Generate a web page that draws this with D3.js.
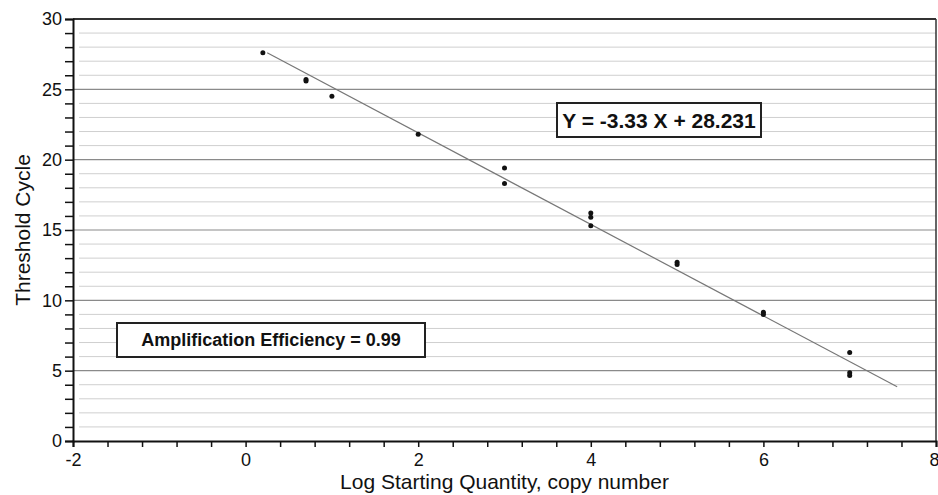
<!DOCTYPE html>
<html>
<head>
<meta charset="utf-8">
<script src="https://cdn.jsdelivr.net/npm/d3@7"></script>
<style>
  body { margin: 0; background: #fff; }
  svg { display: block; font-family: "Liberation Sans", Arial, sans-serif; }
</style>
</head>
<body>
<svg width="938" height="495"></svg>
<script>
// standard curve replicates, log copy number vs Ct
const logQty = [0.2, 0.7, 0.7, 1.0, 2.0, 3.0, 3.0, 4.0, 4.0, 4.0, 5.0, 5.0, 6.0, 6.0, 7.0, 7.0, 7.0]
const ct     = [27.6, 25.7, 25.6, 24.5, 21.8, 19.4, 18.3, 16.2, 15.9, 15.3, 12.7, 12.55, 9.15, 9.0, 6.3, 4.85, 4.65]

// fitted line as drawn
const fitX = [0.25, 7.55]
const fitY = [27.6, 3.85]

const xTickLabels = [-2, 0, 2, 4, 6, 8]
const yTickLabels = [0, 5, 10, 15, 20, 25, 30]

const equationText = "Y = -3.33 X + 28.231"
const efficiencyText = "Amplification Efficiency = 0.99"

var svg = d3.select("svg"),
  width = +svg.attr("width"),
  height = +svg.attr("height")

let margin = { top: 19, right: 2, bottom: 54, left: 73 }

let x = d3.scaleLinear().domain([-2, 8]).range([margin.left, width - margin.right])
let y = d3.scaleLinear().domain([0, 30]).range([height - margin.bottom, margin.top])

// horizontal grid, one per unit, darker every 5
let gridVals = d3.range(1, 30)
svg.append("g")
  .attr("class", "grid")
  .selectAll("line")
  .data(gridVals)
  .enter()
  .append("line")
  .attr("x1", d => d % 5 === 0 ? x(-2) : x(-2) + 6)
  .attr("x2", x(8))
  .attr("y1", d => y(d))
  .attr("y2", d => y(d))
  .attr("stroke", d => d % 5 === 0 ? "#8a8a8a" : "#cfcfcf")
  .attr("stroke-width", d => d % 5 === 0 ? 1.2 : 1)

// frame: top + right
svg.append("line")
  .attr("x1", x(-2)).attr("x2", x(8))
  .attr("y1", y(30)).attr("y2", y(30))
  .attr("stroke", "#333").attr("stroke-width", 2)
svg.append("line")
  .attr("x1", x(8)).attr("x2", x(8))
  .attr("y1", y(30)).attr("y2", y(0))
  .attr("stroke", "#333").attr("stroke-width", 1.5)

// y axis
let yAxis = d3.axisLeft(y)
  .tickValues(d3.range(0, 31))
  .tickSize(8)
  .tickFormat(d => yTickLabels.includes(d) ? d : "")
let gy = svg.append("g")
  .attr("transform", "translate(" + x(-2) + ",0)")
  .call(yAxis)
gy.select(".domain").attr("stroke", "#111").attr("stroke-width", 2)
gy.selectAll(".tick line").attr("stroke", "#111").attr("stroke-width", 1.5)
gy.selectAll("text")
  .attr("x", -11)
  .style("font-size", "18px")
  .attr("fill", "#111")

// x axis, minor ticks every 0.4
let xAxis = d3.axisBottom(x)
  .tickValues(d3.range(0, 26).map(i => -2 + i * 0.4))
  .tickSize(6)
  .tickFormat(d => {
    let r = Math.round(d * 10) / 10
    return xTickLabels.includes(r) ? r : ""
  })
let gx = svg.append("g")
  .attr("transform", "translate(0," + y(0) + ")")
  .call(xAxis)
gx.select(".domain").attr("stroke", "#111").attr("stroke-width", 2)
gx.selectAll(".tick line").attr("stroke", "#111").attr("stroke-width", 1.5)
gx.selectAll("text")
  .attr("y", 12)
  .style("font-size", "18px")
  .attr("fill", "#111")
// last label sits on the edge, keep it inside
gx.selectAll("text").filter(d => Math.round(d) === 8)
  .attr("text-anchor", "end")
  .attr("x", 3)

// regression line
let line = d3.line().x(d => x(d[0])).y(d => y(d[1]))
svg.append("path")
  .datum(d3.zip(fitX, fitY))
  .attr("d", line)
  .attr("fill", "none")
  .attr("stroke", "#777")
  .attr("stroke-width", 1.2)

// points
svg.append("g")
  .selectAll("circle")
  .data(d3.zip(logQty, ct))
  .enter()
  .append("circle")
  .attr("cx", d => x(d[0]))
  .attr("cy", d => y(d[1]))
  .attr("r", 2.5)
  .attr("fill", "#111")

// annotation boxes
function labelBox(text, x0, y0, w, h, size) {
  let g = svg.append("g")
  g.append("rect")
    .attr("x", x0).attr("y", y0)
    .attr("width", w).attr("height", h)
    .attr("fill", "#fff")
    .attr("stroke", "#222").attr("stroke-width", 2)
  g.append("text")
    .attr("x", x0 + w / 2)
    .attr("y", y0 + h / 2)
    .attr("dy", "0.36em")
    .attr("text-anchor", "middle")
    .style("font-size", size + "px")
    .style("font-weight", "bold")
    .attr("fill", "#111")
    .text(text)
}
labelBox(equationText, 557, 103, 204, 34, 21)
labelBox(efficiencyText, 117, 323, 308, 34, 18)

// axis titles
svg.append("text")
  .attr("x", (x(-2) + x(8)) / 2)
  .attr("y", 489)
  .attr("text-anchor", "middle")
  .style("font-size", "21px")
  .attr("fill", "#111")
  .text("Log Starting Quantity, copy number")

svg.append("text")
  .attr("transform", "translate(30," + (y(15)) + ") rotate(-90)")
  .attr("text-anchor", "middle")
  .style("font-size", "21px")
  .attr("fill", "#111")
  .text("Threshold Cycle")
</script>
</body>
</html>
